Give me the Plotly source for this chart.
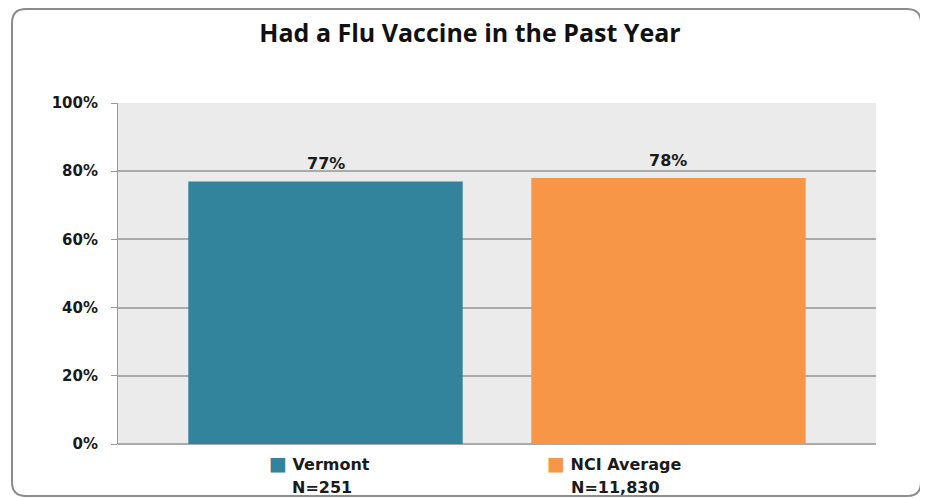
import plotly.graph_objects as go

# Chart data
groups = ["Vermont", "NCI Average"]
sample_sizes = ["N=251", "N=11,830"]
pct_vaccinated = [77, 78]
bar_colors = ["#31849B", "#F79646"]
y_ticks = [0, 20, 40, 60, 80, 100]
y_tick_labels = ["0%", "20%", "40%", "60%", "80%", "100%"]

# the page body adds 8px around the figure; work in page pixels and convert
OFF = 8
W, H = 928 - 2 * OFF, 499 - OFF


def px(x):
    return (x - OFF) / W


def py(y):
    return 1 - (y - OFF) / H


label_font = dict(family="DejaVu Sans", size=16, color="#1a1a1a", weight="bold")

fig = go.Figure()

fig.add_trace(go.Bar(
    x=groups,
    y=pct_vaccinated,
    width=0.8,
    marker=dict(color=bar_colors, line=dict(width=0)),
    showlegend=False,
    hoverinfo="x+y",
))

# value labels above the bars
for g, v in zip(groups, pct_vaccinated):
    fig.add_annotation(x=g, y=v, text=f"{v}%", showarrow=False,
                       yanchor="bottom", yshift=6, font=label_font)

# legend-style labels under the plot: coloured square + name, N below
legend_left = [267, 545]
n_center = [322, 615]
for g, n, c, xl, xc in zip(groups, sample_sizes, bar_colors, legend_left, n_center):
    fig.add_annotation(x=px(xl), xref="paper", y=py(463), yref="paper",
                       text=f"<span style='color:{c};font-size:19px'>■</span> {g}",
                       showarrow=False, xanchor="left", yanchor="middle",
                       font=label_font)
    fig.add_annotation(x=px(xc), xref="paper", y=py(487), yref="paper",
                       text=n, showarrow=False, xanchor="center",
                       yanchor="middle", font=label_font)

# Rounded border around the whole chart
x0, x1, y0, y1, r = 12, 921, 9, 496, 14
border = (
    f"M {px(x0 + r)},{py(y0)} L {px(x1 - r)},{py(y0)} "
    f"Q {px(x1)},{py(y0)} {px(x1)},{py(y0 + r)} "
    f"L {px(x1)},{py(y1 - r)} Q {px(x1)},{py(y1)} {px(x1 - r)},{py(y1)} "
    f"L {px(x0 + r)},{py(y1)} Q {px(x0)},{py(y1)} {px(x0)},{py(y1 - r)} "
    f"L {px(x0)},{py(y0 + r)} Q {px(x0)},{py(y0)} {px(x0 + r)},{py(y0)} Z"
)

fig.update_layout(
    width=W,
    height=H,
    margin=dict(l=0, r=0, t=0, b=0, autoexpand=False),
    paper_bgcolor="white",
    plot_bgcolor="#EBEBEB",
    title=dict(
        text="Had a Flu Vaccine in the Past Year",
        x=px(470), xanchor="center",
        y=py(33), yanchor="middle",
        font=dict(family="Open Sans", size=25, color="#111111", weight="bold"),
    ),
    xaxis=dict(
        domain=[px(118), px(876)],
        range=[-0.605, 1.605],
        automargin=False,
        showticklabels=False,
        ticks="",
        showgrid=False,
        showline=False,
    ),
    yaxis=dict(
        domain=[py(444), py(103)],
        range=[0, 100],
        automargin=False,
        tickvals=y_ticks,
        ticktext=y_tick_labels,
        ticks="outside",
        ticklen=6,
        tickcolor="#999999",
        ticklabelstandoff=10,
        showgrid=True,
        gridcolor="#AAAAAA",
        gridwidth=1.5,
        zeroline=True,
        zerolinecolor="#AAAAAA",
        zerolinewidth=1.5,
        showline=True,
        linecolor="#999999",
        linewidth=1,
        tickfont=dict(family="DejaVu Sans", size=15, color="#1a1a1a", weight="bold"),
    ),
    shapes=[dict(
        type="path", xref="paper", yref="paper", path=border,
        line=dict(color="#8C8C8C", width=2), fillcolor="rgba(0,0,0,0)",
        layer="below",
    )],
)

fig.write_html("out.html")
